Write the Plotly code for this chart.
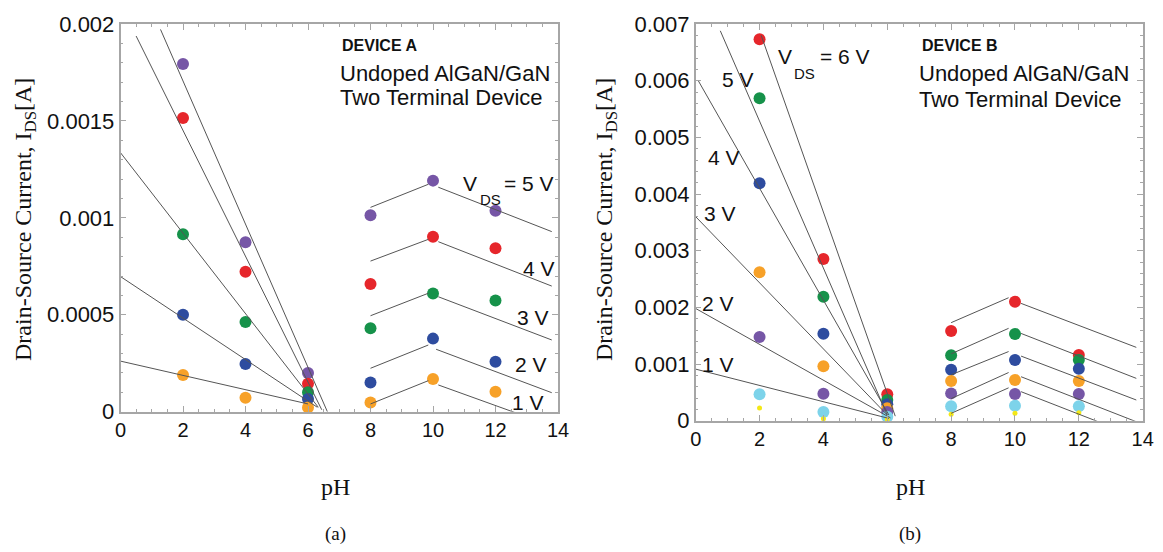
import plotly.graph_objects as go

# The page body adds an 8 px margin, so the figure is drawn 16 px smaller
# and all pixel positions below are measured on the 1163x552 page.
PAGE_OFF = 8
W, H = 1163 - 2 * PAGE_OFF, 552 - 2 * PAGE_OFF

# ---------------- data ----------------
pH = [2, 4, 6, 8, 10, 12]

# Device A  (drain-source current, A)
A_volts = ["5 V", "4 V", "3 V", "2 V", "1 V"]
A_5V = [0.001794, 0.000874, 0.000200, 0.001013, 0.001192, 0.001037]
A_4V = [0.001515, 0.000722, 0.000144, 0.000659, 0.000903, 0.000843]
A_3V = [0.000915, 0.000463, 0.000100, 0.000430, 0.000610, 0.000574]
A_2V = [0.000500, 0.000246, 0.000065, 0.000151, 0.000377, 0.000258]
A_1V = [0.000189, 0.000072, 0.000022, 0.000048, 0.000169, 0.000103]

# Device A fit lines (start/end points), order as A_volts
A_acid_fit_x = [[1.28, 6.62], [0.5, 6.44], [0.0, 6.33], [0.0, 6.3], [0.0, 6.0]]
A_acid_fit_y = [[0.001972, 0.0], [0.001938, 0.00001], [0.001336, 0.0000227],
                [0.000697, 0.0000227], [0.000261, 0.00004]]
A_base1_fit_x = [[8.0, 9.85], [8.0, 9.85], [8.0, 9.85], [8.0, 9.85], [8.0, 9.85]]
A_base1_fit_y = [[0.001054, 0.001173], [0.000777, 0.000889], [0.000495, 0.000611],
                 [0.000224, 0.000344], [0.00004, 0.00016]]
A_base2_fit_x = [[10.17, 13.8], [10.17, 13.8], [10.17, 13.8], [10.1, 13.8], [10.17, 12.84]]
A_base2_fit_y = [[0.001158, 0.000929], [0.000877, 0.000648], [0.000593, 0.00037],
                 [0.000322, 0.000098], [0.000138, -0.000017]]

# Device B  (drain-source current, A)
B_volts = ["6 V", "5 V", "4 V", "3 V", "2 V", "1 V"]
B_6V = [0.00673, 0.002853, 0.000465, 0.001582, 0.00210, 0.001159]
B_5V = [0.00569, 0.002188, 0.000365, 0.001153, 0.00153, 0.00107]
B_4V = [0.00419, 0.001535, 0.000290, 0.000900, 0.00107, 0.000918]
B_3V = [0.00262, 0.000959, 0.000218, 0.000700, 0.000718, 0.000700]
B_2V = [0.001476, 0.000476, 0.000153, 0.000482, 0.000470, 0.000470]
B_1V = [0.000465, 0.000153, 0.000070, 0.000253, 0.000265, 0.000253]
B_low = [0.000224, 0.000035, 0.000024, 0.000112, 0.000130, 0.000141]

B_acid_fit_x = [[2.05, 6.25], [0.77, 6.0], [0.08, 6.05], [0.0, 6.0], [0.0, 6.1], [0.0, 6.05]]
B_acid_fit_y = [[0.0068, 0.00008], [0.00688, 0.0001], [0.0060, 0.0001],
                [0.0036, 0.0001], [0.00198, 0.00005], [0.00091, 0.00004]]
B_base1_fit_x = [[8.0, 9.8]] * 5
B_base1_fit_y = [[0.00173, 0.00217], [0.00118, 0.00163], [0.00081, 0.00122],
                 [0.00039, 0.00085], [0.00013, 0.00058]]
B_base2_fit_x = [[10.19, 13.8], [10.19, 13.8], [10.19, 13.8], [10.19, 13.8], [10.19, 12.87]]
B_base2_fit_y = [[0.00207, 0.001294], [0.00154, 0.000747], [0.00114, 0.000365],
                 [0.000776, -0.000018], [0.000512, -0.000076]]

x_ticks = [0, 2, 4, 6, 8, 10, 12, 14]
A_yticks = [0, 0.0005, 0.001, 0.0015, 0.002]
A_yticklabels = ["0", "0.0005", "0.001", "0.0015", "0.002"]
B_yticks = [0, 0.001, 0.002, 0.003, 0.004, 0.005, 0.006, 0.007]
B_yticklabels = ["0", "0.001", "0.002", "0.003", "0.004", "0.005", "0.006", "0.007"]

# ---------------- style ----------------
PURPLE, RED, GREEN, BLUE = "#7656A6", "#E6262B", "#16924A", "#2E4C9F"
ORANGE, CYAN, YELLOW = "#F7A128", "#7DD3EA", "#F4E816"
LINE = "#555555"
FRAME = "#A6A6A6"
SANS = "Liberation Sans, Arial, sans-serif"
SERIF = "Liberation Serif, Times New Roman, serif"

fig = go.Figure()

A_data = [A_5V, A_4V, A_3V, A_2V, A_1V]
A_cols = [PURPLE, RED, GREEN, BLUE, ORANGE]
for name, vals, col in zip(A_volts, A_data, A_cols):
    fig.add_trace(go.Scatter(x=pH, y=vals, mode="markers", name="A " + name,
                             marker=dict(size=12, color=col), cliponaxis=False,
                             xaxis="x", yaxis="y"))

B_data = [B_6V, B_5V, B_4V, B_3V, B_2V, B_1V]
B_cols = [RED, GREEN, BLUE, ORANGE, PURPLE, CYAN]
for name, vals, col in zip(B_volts, B_data, B_cols):
    fig.add_trace(go.Scatter(x=pH, y=vals, mode="markers", name="B " + name,
                             marker=dict(size=12, color=col), cliponaxis=False,
                             xaxis="x2", yaxis="y2"))
fig.add_trace(go.Scatter(x=pH, y=B_low, mode="markers", name="B low",
                         marker=dict(size=5, color=YELLOW), cliponaxis=False,
                         xaxis="x2", yaxis="y2"))


def segs(xs_list, ys_list):
    X, Y = [], []
    for group_x, group_y in zip(xs_list, ys_list):
        for xs, ys in zip(group_x, group_y):
            X += list(xs) + [None]
            Y += list(ys) + [None]
    return X, Y


ax_, ay_ = segs([A_acid_fit_x, A_base1_fit_x, A_base2_fit_x],
                [A_acid_fit_y, A_base1_fit_y, A_base2_fit_y])
fig.add_trace(go.Scatter(x=ax_, y=ay_, mode="lines", line=dict(color=LINE, width=1),
                         xaxis="x", yaxis="y", hoverinfo="skip"))
bx_, by_ = segs([B_acid_fit_x, B_base1_fit_x, B_base2_fit_x],
                [B_acid_fit_y, B_base1_fit_y, B_base2_fit_y])
fig.add_trace(go.Scatter(x=bx_, y=by_, mode="lines", line=dict(color=LINE, width=1),
                         xaxis="x2", yaxis="y2", hoverinfo="skip"))


def axis(domain, rng, tickvals, ticktext, minor_dtick, anchor, fsize):
    return dict(domain=domain, range=rng, anchor=anchor, tickmode="array",
                tickvals=tickvals, ticktext=ticktext, showline=True, mirror="ticks",
                linecolor=FRAME, linewidth=1.5, ticks="inside", ticklen=6,
                tickcolor=FRAME, tickwidth=1, showgrid=False, zeroline=False,
                automargin=False,
                tickfont=dict(family=SANS, size=fsize, color="#111"),
                minor=dict(dtick=minor_dtick, tick0=0, ticks="inside", ticklen=3,
                           tickcolor=FRAME, tickwidth=1, showgrid=False))


def px(x):
    return (x - PAGE_OFF) / W


def py(y):
    return 1 - (y - PAGE_OFF) / H


fig.update_layout(
    template="none",
    width=W, height=H, margin=dict(l=0, r=0, t=0, b=0, pad=0, autoexpand=False),
    paper_bgcolor="white", plot_bgcolor="white", showlegend=False,
    xaxis=axis([px(120.5), px(558)], [0, 14], x_ticks, [str(v) for v in x_ticks], 0.5, "y", 20),
    yaxis=axis([py(411.7), py(24)], [0, 0.002], A_yticks, A_yticklabels, 0.0001, "x", 22),
    xaxis2=axis([px(695.7), px(1142.7)], [0, 14], x_ticks, [str(v) for v in x_ticks], 0.5, "y2", 20),
    yaxis2=axis([py(420.7), py(24)], [0, 0.007], B_yticks, B_yticklabels, 0.0002, "x2", 22),
)

ann = []


def text(x, y, s, size, family=SANS, xanchor="left", angle=0):
    ann.append(dict(x=px(x), y=py(y), xref="paper", yref="paper", text=s,
                    showarrow=False, xanchor=xanchor, yanchor="middle",
                    textangle=angle, font=dict(family=family, size=size, color="#111")))


# Device A labels
text(340, 45, "<b>DEVICE A</b>", 16)
text(338, 73, "Undoped AlGaN/GaN", 22)
text(338, 98, "Two Terminal Device", 22)
text(461, 183, "V", 21)
text(478, 200, "DS", 15)
text(502, 183, "= 5 V", 21)
text(521, 268, "4 V", 21)
text(515, 317, "3 V", 21)
text(513, 364, "2 V", 21)
text(510, 402, "1 V", 21)

# Device B labels
text(920, 45, "<b>DEVICE B</b>", 16)
text(917, 73, "Undoped AlGaN/GaN", 22)
text(917, 100, "Two Terminal Device", 22)
text(776, 57, "V", 21)
text(792, 73, "DS", 15)
text(818, 57, "= 6 V", 21)
text(720, 79, "5 V", 21)
text(706, 157, "4 V", 21)
text(702, 213, "3 V", 21)
text(700, 303, "2 V", 21)
text(700, 364, "1 V", 21)

# axis titles and captions
ytitle = "Drain-Source Current, I<sub>DS</sub>[A]"
text(25, 220, ytitle, 24, SERIF, "center", -90)
text(606, 220, ytitle, 24, SERIF, "center", -90)
text(335, 487, "pH", 24, SERIF, "center")
text(910, 487, "pH", 24, SERIF, "center")
text(335, 534, "(a)", 19, SERIF, "center")
text(910, 534, "(b)", 19, SERIF, "center")

fig.update_layout(annotations=ann)
fig.write_html("out.html")
